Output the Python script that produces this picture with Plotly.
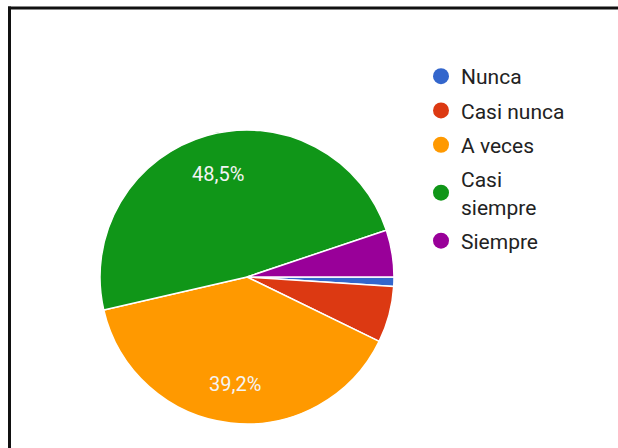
import math
import plotly.graph_objects as go

# Survey answers (n = 97)
categories = ["Nunca", "Casi nunca", "A veces", "Casi siempre", "Siempre"]
legend_labels = ["Nunca", "Casi nunca", "A veces", "Casi<br>siempre", "Siempre"]
counts = [1, 6, 38, 47, 5]
colors = ["#3366CC", "#DC3912", "#FF9900", "#109618", "#990099"]
# Only the large slices carry a percentage label
show_label = [False, False, True, True, False]

W, H = 618, 448
cx, cy, r = 247, 277, 147
start_deg = 0.0      # first slice starts at 3 o'clock, going clockwise
label_frac = 0.73    # radial position of the percentage labels

fig = go.Figure()

fig.add_trace(go.Pie(
    labels=categories,
    values=counts,
    sort=False,
    direction="clockwise",
    rotation=90,
    marker=dict(colors=colors, line=dict(color="white", width=1.5)),
    textinfo="none",
    hoverinfo="label+percent",
    showlegend=False,
    domain=dict(x=[(cx - r) / W, (cx + r) / W],
                y=[(H - cy - r) / H, (H - cy + r) / H]),
))

# Percentage labels placed at each slice's mid-angle
total = sum(counts)
annotations = []
acc = 0.0
for c, show in zip(counts, show_label):
    frac = c / total
    mid = start_deg + 360.0 * (acc + frac / 2)
    acc += frac
    if not show:
        continue
    px = cx + label_frac * r * math.cos(math.radians(mid))
    py = cy + label_frac * r * math.sin(math.radians(mid))
    annotations.append(dict(
        x=px / W, y=1 - py / H, xref="paper", yref="paper",
        text=f"{100 * frac:.1f}%".replace(".", ","),
        showarrow=False, xanchor="center", yanchor="middle",
        font=dict(family="Roboto", size=20, color="#F4F4F4"),
    ))

# Circle-marker legend entries
for i, (lab, col) in enumerate(zip(legend_labels, colors)):
    fig.add_trace(go.Scatter(
        x=[None], y=[None], mode="markers",
        marker=dict(color=col, size=20, symbol="circle"),
        name=lab, legendgroup=f"g{i}", showlegend=True,
    ))

# Frame: thin filled bars along the top and left edges
bar = dict(type="rect", xref="paper", yref="paper",
           fillcolor="#111111", line=dict(width=0))

fig.update_layout(
    width=W, height=H,
    margin=dict(l=0, r=0, t=0, b=0),
    paper_bgcolor="white",
    plot_bgcolor="white",
    xaxis=dict(visible=False, showline=False, zeroline=False, showgrid=False),
    yaxis=dict(visible=False, showline=False, zeroline=False, showgrid=False),
    hovermode=False,
    dragmode=False,
    annotations=annotations,
    legend=dict(
        x=421 / W, y=1 - 56 / H, xanchor="left", yanchor="top",
        font=dict(family="Roboto", size=21, color="#222222"),
        tracegroupgap=4,
        itemclick=False, itemdoubleclick=False,
        bgcolor="rgba(0,0,0,0)",
    ),
    shapes=[
        dict(bar, x0=8 / W, x1=1.0, y0=1 - 9.5 / H, y1=1 - 6.5 / H),
        dict(bar, x0=8 / W, x1=11 / W, y0=0.0, y1=1 - 6.5 / H),
    ],
)

fig.write_html("out.html", config={"displayModeBar": False, "staticPlot": True,
                                   "responsive": False})
